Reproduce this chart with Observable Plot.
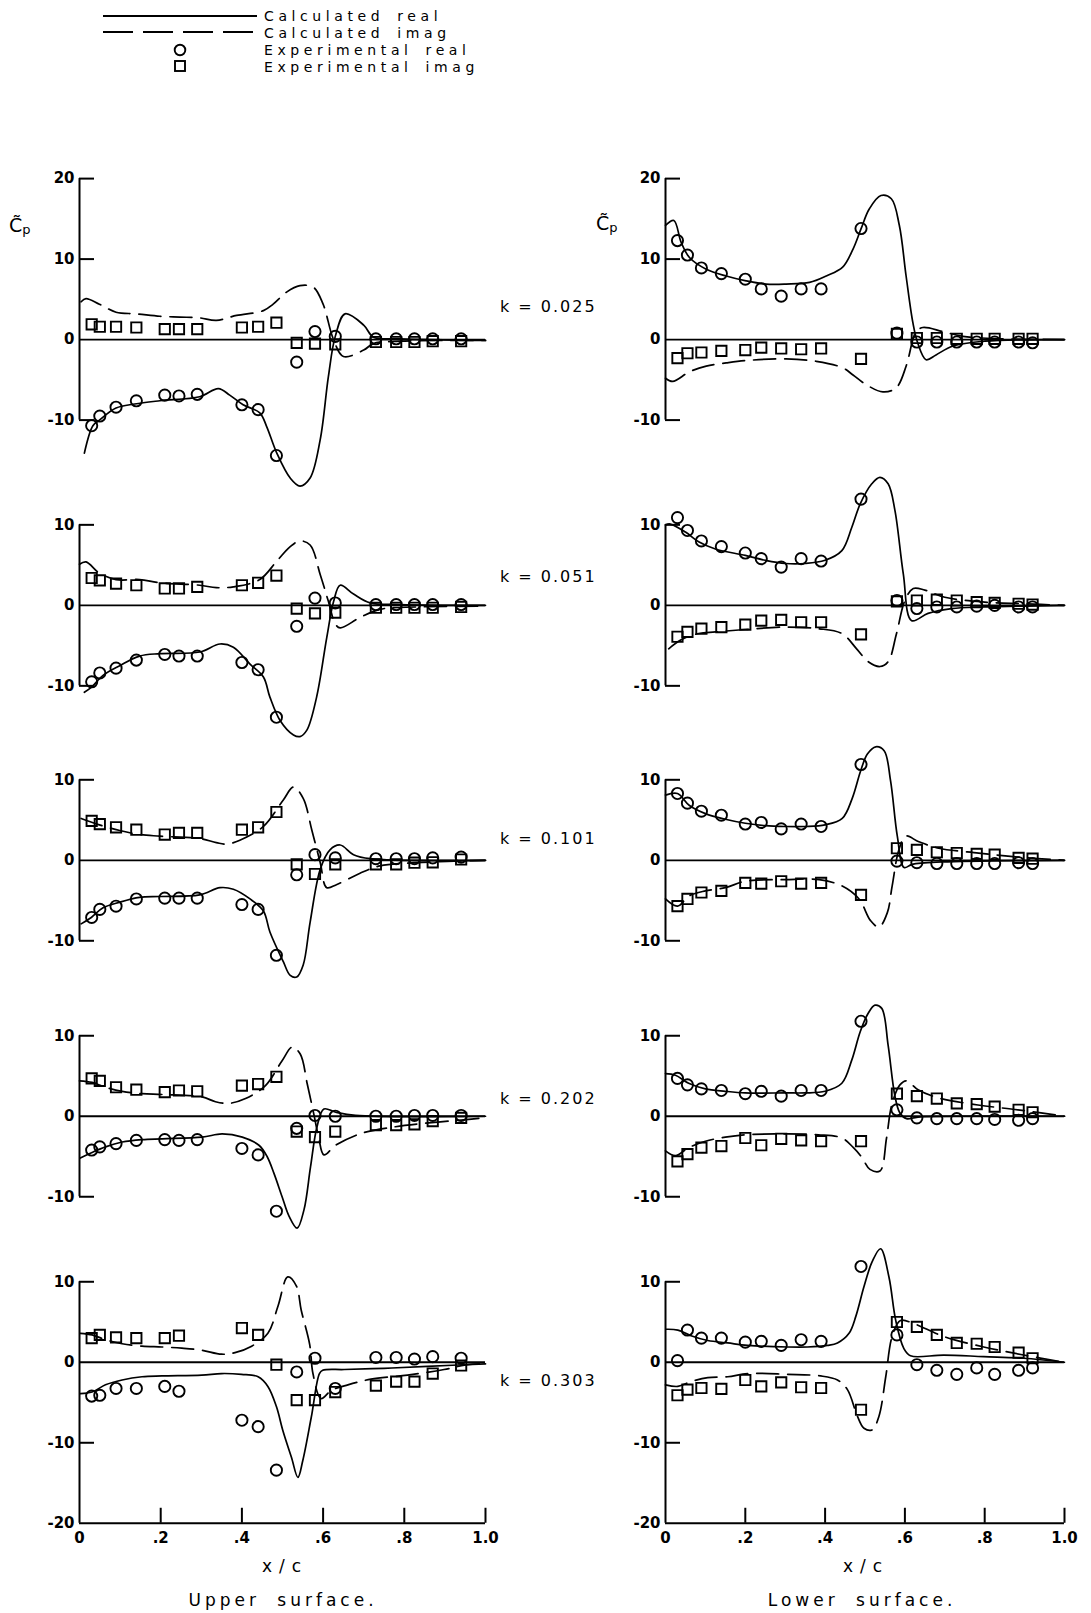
<!DOCTYPE html>
<html><head><meta charset="utf-8">
<script src="https://cdn.jsdelivr.net/npm/d3@7"></script>
<script src="https://cdn.jsdelivr.net/npm/@observablehq/plot@0.6"></script>
<style>
body{margin:0;background:#fff;}
#fig{position:relative;width:1091px;height:1613px;overflow:hidden;background:#fff;}
#fig svg{position:absolute;}
.cap{font-family:"DejaVu Sans",sans-serif;fill:#000;}
</style></head><body><div id="fig"></div>
<script>
// ---------- DATA ----------
const xUpper = [0.03,0.05,0.09,0.14,0.21,0.245,0.29,0.40,0.44,0.485,0.535,0.58,0.63,0.73,0.78,0.825,0.87,0.94];
const xLower = [0.03,0.055,0.09,0.14,0.2,0.24,0.29,0.34,0.39,0.49,0.58,0.63,0.68,0.73,0.78,0.825,0.885,0.92];
const kValues = ["0.025","0.051","0.101","0.202","0.303"];
const xTicks = [0,0.2,0.4,0.6,0.8,1.0];
const xTickLabels = ["0",".2",".4",".6",".8","1.0"];

// k = 0.025
const upper025Real = [-10.7,-9.5,-8.4,-7.6,-6.9,-7.0,-6.8,-8.1,-8.7,-14.4,-2.8,1.0,0.4,0.1,0.1,0.1,0.1,0.1];
const upper025Imag = [1.9,1.6,1.6,1.5,1.3,1.3,1.3,1.5,1.6,2.1,-0.4,-0.5,-0.6,-0.3,-0.3,-0.3,-0.2,-0.2];
const upper025CalcReal = [[0.012,-14.1],[0.033,-10.7],[0.049,-10.0],[0.09,-8.5],[0.136,-8.0],[0.198,-7.6],[0.296,-7.1],[0.342,-6.1],[0.37,-6.9],[0.403,-8.1],[0.444,-9.1],[0.461,-10.8],[0.486,-14.1],[0.519,-17.2],[0.543,-18.2],[0.568,-17.2],[0.593,-12.4],[0.613,-4.6],[0.63,0.4],[0.654,3.2],[0.70,1.8],[0.724,0.3],[0.79,0.1],[1.0,-0.1]];
const upper025CalcImag = [[0.004,4.7],[0.016,5.1],[0.049,4.4],[0.09,3.4],[0.14,3.2],[0.198,2.9],[0.247,2.8],[0.296,2.7],[0.337,2.4],[0.387,3.0],[0.453,3.6],[0.477,4.4],[0.51,5.9],[0.543,6.7],[0.576,6.5],[0.60,4.4],[0.625,0.1],[0.65,-2.1],[0.70,-1.3],[0.724,-0.5],[0.79,-0.2],[1.0,-0.1]];
const lower025Real = [12.3,10.5,8.9,8.2,7.5,6.3,5.4,6.3,6.3,13.8,0.8,-0.3,-0.3,-0.3,-0.3,-0.3,-0.3,-0.4];
const lower025Imag = [-2.3,-1.7,-1.6,-1.4,-1.3,-1.0,-1.1,-1.2,-1.1,-2.4,0.7,0.2,0.2,0.1,0.1,0.1,0.1,0.1];
const lower025CalcReal = [[0,14.2],[0.021,14.8],[0.039,12.1],[0.06,10.2],[0.102,8.75],[0.152,7.9],[0.202,7.3],[0.252,6.9],[0.302,6.9],[0.361,7.1],[0.403,7.9],[0.444,9.0],[0.47,11.25],[0.49,13.75],[0.511,16.25],[0.54,17.9],[0.566,17.5],[0.586,14.2],[0.603,7.9],[0.62,2.1],[0.632,-0.4],[0.653,-2.5],[0.678,-1.9],[0.72,-0.8],[0.8,-0.2],[1,0]];
const lower025CalcImag = [[0,-4.8],[0.018,-5.2],[0.06,-4.0],[0.102,-3.3],[0.152,-2.9],[0.202,-2.6],[0.302,-2.4],[0.378,-2.7],[0.444,-3.5],[0.47,-4.4],[0.503,-5.6],[0.545,-6.5],[0.578,-6.0],[0.603,-3.3],[0.62,0],[0.628,1.0],[0.645,1.5],[0.695,1.0],[0.745,0.4],[0.845,0.1],[1,0]];

// k = 0.051
const upper051Real = [-9.5,-8.4,-7.8,-6.8,-6.1,-6.3,-6.3,-7.1,-8.0,-13.9,-2.6,0.9,0.3,0.1,0.1,0.1,0.1,0.1];
const upper051Imag = [3.4,3.1,2.7,2.5,2.1,2.1,2.3,2.5,2.8,3.7,-0.4,-1.0,-0.9,-0.3,-0.3,-0.3,-0.3,-0.2];
const upper051CalcReal = [[0.012,-10.8],[0.029,-10.2],[0.058,-8.7],[0.099,-7.5],[0.148,-6.3],[0.198,-6.0],[0.296,-5.8],[0.346,-4.8],[0.379,-5.2],[0.42,-7.3],[0.453,-8.9],[0.469,-11.4],[0.494,-14.3],[0.527,-16.1],[0.543,-16.3],[0.56,-15.5],[0.584,-11.4],[0.609,-4.0],[0.626,0.5],[0.642,2.5],[0.675,1.4],[0.716,0.3],[0.79,0.1],[1,0]];
const upper051CalcImag = [[0,5.1],[0.016,5.4],[0.049,4.0],[0.09,3.2],[0.148,3.2],[0.198,2.8],[0.296,2.5],[0.337,2.2],[0.379,2.3],[0.444,3.2],[0.486,5.5],[0.519,7.3],[0.543,8.0],[0.568,7.5],[0.593,3.8],[0.613,0.5],[0.63,-2.3],[0.642,-2.8],[0.691,-1.5],[0.74,-0.5],[0.83,-0.2],[1,-0.1]];
const lower051Real = [10.9,9.3,8.0,7.3,6.5,5.8,4.75,5.8,5.5,13.2,0.6,-0.4,-0.2,-0.2,-0.1,0,-0.2,-0.2];
const lower051Imag = [-3.9,-3.3,-2.9,-2.7,-2.4,-1.9,-1.8,-2.1,-2.1,-3.6,0.5,0.6,0.7,0.6,0.4,0.3,0.2,0.1];
const lower051CalcReal = [[0,10.0],[0.012,10.1],[0.05,9.1],[0.083,7.9],[0.125,7.0],[0.2,6.2],[0.25,5.6],[0.3,5.2],[0.35,5.2],[0.4,5.6],[0.442,6.8],[0.467,9.7],[0.488,12.6],[0.517,15.1],[0.5375,15.9],[0.558,15.1],[0.575,11.8],[0.596,3.9],[0.617,-1.9],[0.658,-1.0],[0.717,-0.4],[0.8,-0.2],[1,0]];
const lower051CalcImag = [[0.008,-5.4],[0.038,-4.3],[0.083,-3.5],[0.125,-3.3],[0.2,-3.0],[0.3,-2.7],[0.383,-2.9],[0.442,-3.5],[0.479,-5.4],[0.508,-7.0],[0.5375,-7.6],[0.558,-7.0],[0.579,-3.5],[0.6,0.6],[0.621,2.1],[0.65,1.9],[0.7,1.0],[0.8,0.4],[0.9,0.2],[1,0]];

// k = 0.101
const upper101Real = [-7.1,-6.1,-5.7,-4.8,-4.7,-4.7,-4.7,-5.5,-6.1,-11.8,-1.8,0.7,0.3,0.2,0.2,0.2,0.3,0.4];
const upper101Imag = [4.9,4.5,4.1,3.8,3.2,3.4,3.4,3.8,4.1,6.0,-0.5,-1.7,-0.5,-0.5,-0.5,-0.3,-0.25,0.1];
const upper101CalcReal = [[0.004,-7.9],[0.029,-7.1],[0.058,-5.9],[0.099,-5.2],[0.148,-4.6],[0.198,-4.5],[0.296,-4.3],[0.346,-3.4],[0.379,-3.6],[0.42,-4.8],[0.453,-6.3],[0.469,-8.9],[0.502,-12.6],[0.519,-14.3],[0.535,-14.5],[0.551,-13.0],[0.568,-7.7],[0.593,-1.1],[0.617,1.3],[0.642,1.9],[0.675,0.7],[0.716,0.2],[1,0]];
const upper101CalcImag = [[0.004,5.2],[0.049,4.4],[0.099,3.7],[0.148,3.2],[0.198,3.0],[0.296,2.7],[0.337,2.2],[0.362,2.0],[0.395,2.5],[0.453,4.2],[0.502,7.5],[0.527,9.1],[0.551,7.7],[0.572,3.8],[0.593,-0.3],[0.609,-3.4],[0.634,-3.0],[0.691,-1.6],[0.74,-0.7],[0.83,-0.3],[1,0]];
const lower101Real = [8.3,7.1,6.1,5.6,4.5,4.7,3.9,4.5,4.2,11.9,-0.1,-0.3,-0.4,-0.4,-0.4,-0.4,-0.3,-0.4];
const lower101Imag = [-5.7,-4.8,-4.0,-3.8,-2.8,-2.9,-2.6,-2.9,-2.8,-4.3,1.5,1.3,1.0,0.9,0.8,0.7,0.3,0.2];
const lower101CalcReal = [[0,8.1],[0.03,8.3],[0.06,6.8],[0.1,5.8],[0.15,5.1],[0.2,4.6],[0.25,4.3],[0.3,4.2],[0.35,4.2],[0.4,4.4],[0.443,5.2],[0.468,7.7],[0.489,11.1],[0.506,13.2],[0.527,14.1],[0.548,13.6],[0.564,9.9],[0.581,3.0],[0.598,-0.9],[0.618,-0.5],[0.693,-0.2],[1,0]];
const lower101CalcImag = [[0,-4.8],[0.03,-5.7],[0.06,-4.4],[0.1,-3.8],[0.15,-3.4],[0.2,-2.6],[0.3,-2.4],[0.385,-2.4],[0.443,-3.2],[0.485,-4.8],[0.514,-7.5],[0.535,-8.3],[0.556,-6.5],[0.568,-3.2],[0.585,1.3],[0.602,3.0],[0.635,2.3],[0.685,1.5],[0.785,0.9],[0.885,0.4],[1,0]];

// k = 0.202
const upper202Real = [-4.2,-3.8,-3.4,-3.0,-2.9,-3.0,-2.9,-4.0,-4.8,-11.8,-1.5,0.1,0,0,0,0.1,0.1,0.1];
const upper202Imag = [4.7,4.4,3.6,3.3,3.0,3.2,3.1,3.8,4.0,4.9,-1.9,-2.6,-1.9,-1.1,-1.1,-1.0,-0.6,-0.2];
const upper202CalcReal = [[0.002,-5.2],[0.031,-4.5],[0.064,-3.8],[0.105,-3.2],[0.154,-2.9],[0.204,-2.8],[0.302,-2.6],[0.351,-2.2],[0.401,-2.6],[0.442,-3.6],[0.462,-5.0],[0.479,-7.1],[0.499,-10.0],[0.516,-12.4],[0.536,-13.9],[0.553,-11.6],[0.569,-6.3],[0.585,-1.3],[0.602,0.9],[0.631,0.5],[0.68,0.1],[1,0]];
const upper202CalcImag = [[0,4.4],[0.031,4.2],[0.064,3.6],[0.105,3.1],[0.154,2.8],[0.204,2.7],[0.302,2.4],[0.335,1.8],[0.368,1.6],[0.409,2.2],[0.458,3.8],[0.499,6.9],[0.524,8.6],[0.544,7.7],[0.561,4.0],[0.577,0.3],[0.589,-2.6],[0.602,-4.8],[0.631,-3.6],[0.696,-2.1],[0.778,-1.3],[0.844,-0.9],[0.934,-0.5],[1,-0.2]];
const lower202Real = [4.7,3.9,3.4,3.2,2.8,3.1,2.5,3.2,3.2,11.8,0.8,-0.2,-0.3,-0.3,-0.3,-0.4,-0.5,-0.3];
const lower202Imag = [-5.6,-4.7,-3.9,-3.7,-2.7,-3.6,-2.8,-3.0,-3.1,-3.1,2.8,2.5,2.2,1.6,1.5,1.2,0.8,0.5];
const lower202CalcReal = [[0,5.3],[0.025,5.1],[0.058,4.1],[0.1,3.4],[0.15,3.1],[0.2,2.9],[0.3,2.9],[0.35,2.9],[0.4,3.1],[0.442,4.1],[0.467,7.0],[0.488,10.5],[0.508,12.8],[0.525,13.8],[0.542,13.4],[0.558,8.8],[0.575,2.5],[0.5875,0.4],[0.604,-0.3],[0.633,-0.1],[1,0]];
const lower202CalcImag = [[0,-4.3],[0.025,-4.9],[0.058,-3.9],[0.1,-3.1],[0.15,-2.6],[0.2,-2.3],[0.3,-2.2],[0.383,-2.3],[0.442,-2.7],[0.471,-3.9],[0.492,-5.1],[0.5125,-6.6],[0.5375,-6.8],[0.554,-2.7],[0.567,1.4],[0.5875,3.9],[0.604,4.4],[0.633,3.3],[0.683,2.3],[0.783,1.4],[0.883,0.8],[1,0]];

// k = 0.303
const upper303Real = [-4.2,-4.1,-3.25,-3.25,-3.0,-3.6,null,-7.2,-8.0,-13.4,-1.2,0.5,-3.25,0.6,0.6,0.4,0.7,0.5];
const upper303Imag = [3.0,3.4,3.1,3.0,3.0,3.3,null,4.25,3.4,-0.3,-4.7,-4.7,-3.7,-2.9,-2.4,-2.4,-1.4,-0.4];
const upper303CalcReal = [[0.002,-3.9],[0.031,-3.7],[0.064,-2.8],[0.105,-2.2],[0.154,-1.8],[0.203,-1.7],[0.301,-1.6],[0.35,-1.4],[0.399,-1.5],[0.44,-1.8],[0.464,-3.0],[0.485,-5.5],[0.501,-8.5],[0.522,-11.8],[0.538,-14.3],[0.55,-12.2],[0.571,-6.8],[0.591,-1.4],[0.599,-1.0],[0.652,-0.9],[0.75,-0.75],[0.857,-0.5],[1,-0.2]];
const upper303CalcImag = [[0.002,3.6],[0.031,3.4],[0.064,2.8],[0.105,2.3],[0.154,2.0],[0.203,1.9],[0.252,1.75],[0.301,1.5],[0.35,1.0],[0.383,1.2],[0.424,2.0],[0.464,3.6],[0.489,7.0],[0.513,10.6],[0.534,9.5],[0.546,6.5],[0.567,2.2],[0.575,-1.4],[0.595,-4.5],[0.62,-3.5],[0.661,-2.8],[0.718,-2.1],[0.808,-1.6],[0.898,-0.9],[0.955,-0.3],[1,-0.2]];
const lower303Real = [0.2,4.0,3.0,3.0,2.5,2.6,2.1,2.8,2.6,11.9,3.4,-0.3,-1.0,-1.5,-0.7,-1.5,-1.0,-0.7];
const lower303Imag = [-4.1,-3.4,-3.2,-3.3,-2.2,-3.0,-2.5,-3.1,-3.2,-5.9,5.0,4.4,3.4,2.4,2.3,1.9,1.2,0.5];
const lower303CalcReal = [[0.002,4.1],[0.031,4.0],[0.064,3.3],[0.106,2.7],[0.156,2.4],[0.206,2.1],[0.306,1.9],[0.356,1.9],[0.406,2.1],[0.431,2.4],[0.46,3.6],[0.477,5.7],[0.4975,9.4],[0.518,12.5],[0.539,14.1],[0.56,10.6],[0.577,5.2],[0.5975,1.7],[0.614,0.8],[0.6975,0.9],[0.7975,0.7],[0.8975,0.5],[1,0]];
const lower303CalcImag = [[0,-2.8],[0.031,-3.0],[0.064,-2.4],[0.106,-1.9],[0.156,-1.8],[0.206,-1.4],[0.306,-1.5],[0.389,-1.7],[0.431,-2.2],[0.456,-3.4],[0.481,-6.7],[0.4975,-8.2],[0.518,-8.4],[0.535,-6.7],[0.552,-1.8],[0.568,3.2],[0.589,5.2],[0.6225,4.8],[0.6975,3.2],[0.7975,1.9],[0.8975,0.9],[1,0]];

// ---------- LAYOUT ----------
const PX = 8.05; // pixels per unit of Cp
const rows = [
  {zero:339.5, lo:-20, hi:22, axisLo:-10, axisHi:20, ticks:[20,10,0,-10], kY:305.5},
  {zero:604.5, lo:-17.5, hi:17, axisLo:-10, axisHi:10, ticks:[10,0,-10], kY:576},
  {zero:859.5, lo:-16, hi:16, axisLo:-10, axisHi:10, ticks:[10,0,-10], kY:838},
  {zero:1116, lo:-15, hi:15, axisLo:-10, axisHi:10, ticks:[10,0,-10], kY:1098},
  {zero:1362, lo:-20, hi:15.5, axisLo:-20, axisHi:10, ticks:[10,0,-10,-20], kY:1380, xAxis:true}
];
const panels = [
  {row:0, side:"upper", expReal:upper025Real, expImag:upper025Imag, calcReal:upper025CalcReal, calcImag:upper025CalcImag},
  {row:0, side:"lower", expReal:lower025Real, expImag:lower025Imag, calcReal:lower025CalcReal, calcImag:lower025CalcImag},
  {row:1, side:"upper", expReal:upper051Real, expImag:upper051Imag, calcReal:upper051CalcReal, calcImag:upper051CalcImag},
  {row:1, side:"lower", expReal:lower051Real, expImag:lower051Imag, calcReal:lower051CalcReal, calcImag:lower051CalcImag},
  {row:2, side:"upper", expReal:upper101Real, expImag:upper101Imag, calcReal:upper101CalcReal, calcImag:upper101CalcImag},
  {row:2, side:"lower", expReal:lower101Real, expImag:lower101Imag, calcReal:lower101CalcReal, calcImag:lower101CalcImag},
  {row:3, side:"upper", expReal:upper202Real, expImag:upper202Imag, calcReal:upper202CalcReal, calcImag:upper202CalcImag},
  {row:3, side:"lower", expReal:lower202Real, expImag:lower202Imag, calcReal:lower202CalcReal, calcImag:lower202CalcImag},
  {row:4, side:"upper", expReal:upper303Real, expImag:upper303Imag, calcReal:upper303CalcReal, calcImag:upper303CalcImag},
  {row:4, side:"lower", expReal:lower303Real, expImag:lower303Imag, calcReal:lower303CalcReal, calcImag:lower303CalcImag}
];

const fig = document.getElementById("fig");

function makePanel(p) {
  const r = rows[p.row];
  const isUpper = p.side === "upper";
  const xs = isUpper ? xUpper : xLower;
  const real = xs.map((x, i) => ({x, y: p.expReal[i]})).filter(d => d.y != null);
  const imag = xs.map((x, i) => ({x, y: p.expImag[i]})).filter(d => d.y != null);
  const left = isUpper ? 0 : 560;
  const width = isUpper ? 520 : 531;
  const ml = isUpper ? 79 : 105;
  const mr = isUpper ? 35 : 27;
  const mb = r.xAxis ? 32 : 0;
  const height = (r.hi - r.lo) * PX + mb;
  const tickLen = 15 / (width - ml - mr);
  const marks = [
    Plot.ruleX([0], {y1: r.axisLo, y2: r.axisHi, stroke: "black", strokeWidth: 2}),
    Plot.ruleY([0], {x1: 0, x2: 1, stroke: "black", strokeWidth: 1.8}),
    Plot.ruleY(r.ticks.filter(t => t !== 0 && !(r.xAxis && t === r.axisLo)), {x1: 0, x2: tickLen, stroke: "black", strokeWidth: 2}),
    Plot.axisY(r.ticks, {tickSize: 0, tickPadding: 5, fontSize: 15, fontWeight: "bold", tickFormat: d => String(d), label: null}),
    Plot.line(p.calcReal, {x: d => d[0], y: d => d[1], curve: "catmull-rom", stroke: "black", strokeWidth: 1.7}),
    Plot.line(p.calcImag, {x: d => d[0], y: d => d[1], curve: "catmull-rom", stroke: "black", strokeWidth: 1.7, strokeDasharray: "22,9"}),
    Plot.dot(real, {x: "x", y: "y", r: 5.6, stroke: "black", strokeWidth: 1.9, fill: "none"}),
    Plot.dot(imag, {x: "x", y: "y", symbol: "square", r: 5.8, stroke: "black", strokeWidth: 1.9, fill: "none"})
  ];
  if (r.xAxis) {
    marks.push(Plot.ruleY([r.axisLo], {x1: 0, x2: 1, stroke: "black", strokeWidth: 2}));
    marks.push(Plot.ruleX(xTicks.slice(1), {y1: r.axisLo, y2: r.axisLo + 15 / PX, stroke: "black", strokeWidth: 2}));
    marks.push(Plot.axisX(xTicks, {tickSize: 0, tickPadding: 9, fontSize: 15, fontWeight: "bold", tickFormat: d => xTickLabels[xTicks.indexOf(d)], label: null}));
  }
  const svg = Plot.plot({
    width, height,
    marginLeft: ml, marginRight: mr, marginTop: 0, marginBottom: mb,
    x: {domain: [0, 1], axis: null},
    y: {domain: [r.lo, r.hi], axis: null},
    style: "font-family:'DejaVu Sans',sans-serif;font-size:15px;font-weight:bold;overflow:visible;background:transparent;color:black;",
    marks
  });
  svg.style.left = left + "px";
  svg.style.top = (r.zero - r.hi * PX) + "px";
  svg.style.maxWidth = "none";
  fig.appendChild(svg);
}
panels.forEach(makePanel);

// ---------- captions, legend ----------
const NS = "http://www.w3.org/2000/svg";
const cap = document.createElementNS(NS, "svg");
cap.setAttribute("width", 1091); cap.setAttribute("height", 1613);
cap.style.left = "0px"; cap.style.top = "0px"; cap.style.overflow = "visible";
let html = "";
// legend
html += `<line x1="103" x2="257" y1="16" y2="16" stroke="black" stroke-width="1.8"/>`;
html += `<line x1="103" x2="257" y1="32" y2="32" stroke="black" stroke-width="1.8" stroke-dasharray="30,10"/>`;
html += `<circle cx="180" cy="50" r="5.3" fill="none" stroke="black" stroke-width="1.9"/>`;
html += `<rect x="175" y="61" width="10" height="10" fill="none" stroke="black" stroke-width="1.9"/>`;
const legTexts = ["Calculated real", "Calculated imag", "Experimental real", "Experimental imag"];
const legY = [21, 38, 55, 72];
legTexts.forEach((t, i) => {
  html += `<text class="cap" x="264" y="${legY[i]}" font-size="14" letter-spacing="4.6" word-spacing="4">${t}</text>`;
});
// k labels
kValues.forEach((k, i) => {
  html += `<text class="cap" x="500" y="${rows[i].kY + 6}" font-size="16" letter-spacing="2">k = ${k}</text>`;
});
// Cp labels
html += `<text class="cap" x="9" y="232" font-size="19">C\u0303<tspan font-size="13" dy="2">p</tspan></text>`;
html += `<text class="cap" x="596" y="230" font-size="19">C\u0303<tspan font-size="13" dy="2">p</tspan></text>`;
// x labels and surface captions
html += `<text class="cap" x="285" y="1572" font-size="17" letter-spacing="7" text-anchor="middle">x/c</text>`;
html += `<text class="cap" x="866" y="1572" font-size="17" letter-spacing="7" text-anchor="middle">x/c</text>`;
html += `<text class="cap" x="283" y="1606" font-size="17" letter-spacing="4" word-spacing="8" text-anchor="middle">Upper surface.</text>`;
html += `<text class="cap" x="862" y="1606" font-size="17" letter-spacing="4" word-spacing="8" text-anchor="middle">Lower surface.</text>`;
cap.innerHTML = html;
fig.appendChild(cap);
</script>
</body></html>
